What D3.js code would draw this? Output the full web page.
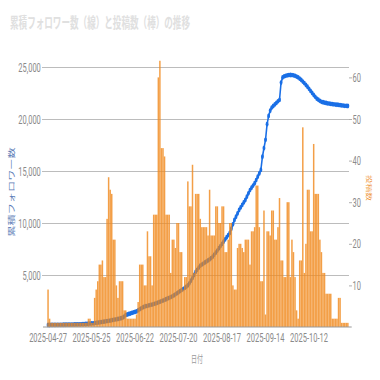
<!DOCTYPE html>
<html>
<head>
<meta charset="utf-8">
<script src="https://cdn.jsdelivr.net/npm/d3@7"></script>
<style>
  html, body { margin: 0; padding: 0; background: #fff; }
  svg { display: block; }
</style>
</head>
<body>
<div id="container"></div>
<script>
// data
let startDate = "2025-04-27";
let tickLabels = ["2025-04-27", "2025-05-25", "2025-06-22", "2025-07-20", "2025-08-17", "2025-09-14", "2025-10-12"];
let leftTicks = [5000, 10000, 15000, 20000, 25000];
let rightTicks = [10, 20, 30, 40, 50, 60];

// posts per day (bars)
let posts = [
  9,2,1,1,1,1,1,1,1,1,
  1,1,1,1,1,1,1,1,1,1,
  1,1,1,1,1,1,2,2,1,1,
  7,9,11,15,15,16,12,12,26,36,
  33,32,21,21,10,7,11,11,11,4,
  4,2,2,2,2,2,2,3,6,15,
  15,15,10,10,23,17,17,10,27,27,
  27,60,64,43,43,41,27,27,27,13,
  21,21,19,25,25,18,18,9,12,12,
  35,29,29,39,13,32,32,32,26,24,
  24,24,24,22,33,22,22,22,29,29,
  25,25,29,29,18,18,21,25,25,10,
  9,9,19,20,20,19,18,21,21,21,
  15,23,23,24,34,34,24,11,11,28,
  3,23,23,22,28,28,21,21,24,31,
  16,16,12,12,30,30,12,21,18,12,
  4,2,16,16,48,13,20,33,33,23,
  23,44,32,32,32,21,18,13,13,8,
  8,8,8,2,2,2,2,7,7,1,
  1,1,1,1
];

// cumulative followers (line)
let followers = [
  190,192,195,197,200,202,205,207,210,212,
  215,218,220,224,228,232,236,240,245,250,
  255,262,270,280,290,300,312,325,340,355,
  380,400,420,440,465,490,515,540,565,590,
  620,650,680,710,740,770,800,840,900,1000,
  1150,1200,1250,1300,1350,1400,1450,1500,1600,1700,
  1800,1880,1950,2000,2040,2080,2120,2160,2200,2250,
  2300,2360,2420,2480,2540,2600,2670,2740,2810,2880,
  2950,3040,3140,3240,3340,3450,3550,3650,3760,3880,
  4000,4200,4450,4700,5000,5300,5500,5700,5900,6000,
  6100,6200,6300,6400,6500,6620,6760,6950,7150,7350,
  7570,7780,7990,8200,8420,8630,8840,9040,9450,9870,
  10290,10600,10920,11250,11500,11740,11980,12210,12530,12850,
  13170,13390,13600,13820,14130,14450,14770,15100,16370,17200,
  18000,19500,20300,20800,21100,21250,21400,21550,21700,21830,
  23500,24000,24100,24150,24200,24220,24230,24220,24200,24150,
  24080,24000,23880,23750,23600,23440,23270,23100,22900,22700,
  22500,22310,22130,21950,21850,21750,21650,21610,21570,21540,
  21500,21480,21450,21430,21410,21390,21370,21350,21330,21310,
  21290,21270,21260,21250
];

// the chart is squeezed horizontally, so draw wide and squash it with the viewBox
let sx = 0.6;
let w = 380;
let h = 380;
let vw = w / sx;

let parse = d3.timeParse("%Y-%m-%d");
let fmt = d3.timeFormat("%Y-%m-%d");
let start = parse(startDate);
let days = d3.timeDay.range(start, d3.timeDay.offset(start, posts.length)).map(fmt);

let svg = d3.select("#container").append("svg")
    .attr("width", w)
    .attr("height", h)
    .attr("viewBox", `0 0 ${vw} ${h}`)
    .attr("preserveAspectRatio", "none");

let plotL = 70;
let plotR = 349 / sx;
let x = d3.scaleBand().domain(days).range([47.3 / sx, 348.6 / sx]).paddingInner(0.04);
let yL = d3.scaleLinear().domain([0, 25000]).range([327, 67]);
let yR = d3.scaleLinear().domain([0, 62.5]).range([327, 67]);

let tickFont = "Roboto, 'Liberation Sans', sans-serif";
let cjk = "'Noto Sans CJK JP', 'Noto Sans', sans-serif";

// title
svg.append("text")
    .attr("x", 10 / sx)
    .attr("y", 28)
    .attr("font-family", cjk)
    .attr("font-size", 14.3)
    .attr("font-weight", "bold")
    .attr("fill", "#e0e0e0")
    .text("累積フォロワー数（線）と投稿数（棒）の推移");

// left axis with gridlines
let gL = svg.append("g")
    .attr("transform", `translate(${plotL},0)`)
    .call(d3.axisLeft(yL).tickValues(leftTicks).tickSize(-(plotR - plotL)).tickPadding(2).tickFormat(d3.format(",")));
gL.select(".domain").remove();
gL.selectAll(".tick line").attr("stroke", "#ababab").attr("stroke-width", 1);
gL.selectAll(".tick text")
    .attr("font-family", tickFont)
    .attr("font-size", 12.5)
    .attr("fill", "#8a8a8a");

// right axis
let gR = svg.append("g")
    .attr("transform", `translate(${plotR},0)`)
    .call(d3.axisRight(yR).tickValues(rightTicks).tickSize(5).tickPadding(1));
gR.select(".domain").remove();
gR.selectAll(".tick line").attr("stroke", "#9a9a9a");
gR.selectAll(".tick text")
    .attr("font-family", tickFont)
    .attr("font-size", 12.5)
    .attr("fill", "#8a8a8a");

// followers line, drawn below the bars
let cx = d => x(d) + x.bandwidth() / 2;
let line = d3.line()
    .x((d, i) => cx(days[i]))
    .y(d => yL(d));

svg.append("path")
    .datum(followers)
    .attr("fill", "none")
    .attr("stroke", "#1a6fe6")
    .attr("stroke-width", 2.6)
    .attr("d", line);

svg.selectAll(".dot").data(followers).enter()
    .append("circle")
        .attr("class", "dot")
        .attr("cx", (d, i) => cx(days[i]))
        .attr("cy", d => yL(d))
        .attr("r", 2.4)
        .attr("fill", "#1a6fe6");

// posts bars
svg.selectAll(".bar").data(posts).enter()
    .append("rect")
        .attr("class", "bar")
        .attr("x", (d, i) => x(days[i]))
        .attr("width", x.bandwidth())
        .attr("y", d => yR(d))
        .attr("height", d => yR(0) - yR(d))
        .attr("fill", "#f08a1f")
        .attr("fill-opacity", 0.82);

// baseline
svg.append("line")
    .attr("x1", 43 / sx).attr("x2", 351.7 / sx)
    .attr("y1", 327).attr("y2", 327)
    .attr("stroke", "#999")
    .attr("stroke-width", 1.2);

// bottom axis labels
let gB = svg.append("g")
    .attr("transform", "translate(0,327)")
    .call(d3.axisBottom(x).tickValues(tickLabels).tickSize(0).tickPadding(6));
gB.select(".domain").remove();
gB.selectAll(".tick text")
    .attr("font-family", tickFont)
    .attr("font-size", 12.5)
    .attr("fill", "#8a8a8a");

// axis titles
svg.append("text")
    .attr("x", 197 / sx)
    .attr("y", 363)
    .attr("text-anchor", "middle")
    .attr("font-family", cjk)
    .attr("font-size", 10)
    .attr("fill", "#9a9a9a")
    .text("日付");

svg.append("text")
    .attr("transform", `translate(${14 / sx},192) rotate(-90)`)
    .attr("text-anchor", "middle")
    .attr("font-family", cjk)
    .attr("font-size", 11.2)
    .attr("fill", "#5a7ab5")
    .text("累積フォロワー数");

svg.append("text")
    .attr("transform", `translate(${366.5 / sx},188) rotate(90)`)
    .attr("text-anchor", "middle")
    .attr("font-family", cjk)
    .attr("font-size", 8.6)
    .attr("fill", "#f09a45")
    .text("投稿数");
</script>
</body>
</html>
